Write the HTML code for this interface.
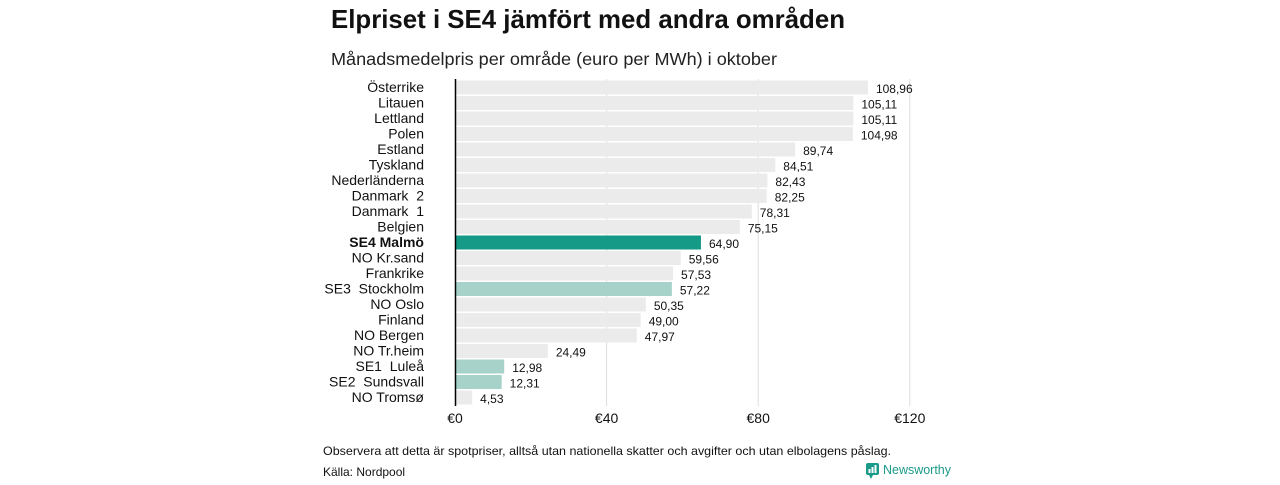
<!DOCTYPE html>
<html><head><meta charset="utf-8"><style>
body{margin:0;background:#fff;width:1280px;height:480px;overflow:hidden;font-family:"Liberation Sans","DejaVu Sans",sans-serif}
</style></head><body>
<svg width="1280" height="480" xmlns="http://www.w3.org/2000/svg">
<text x="331" y="28" font-size="26" font-weight="bold" fill="#111" textLength="514" lengthAdjust="spacingAndGlyphs">Elpriset i SE4 jämfört med andra områden</text>
<text x="331" y="65" font-size="17.5" fill="#222" textLength="446" lengthAdjust="spacingAndGlyphs">Månadsmedelpris per område (euro per MWh) i oktober</text>
<g id="grid"></g>
<g id="bars"></g>
<g id="xaxis"></g>
<line x1="455.5" y1="79" x2="455.5" y2="406" stroke="#000" stroke-width="1.5"/>
<text x="323" y="455" font-size="12" fill="#111" textLength="568" lengthAdjust="spacingAndGlyphs">Observera att detta är spotpriser, alltså utan nationella skatter och avgifter och utan elbolagens påslag.</text>
<text x="323" y="476" font-size="12" fill="#111">Källa: Nordpool</text>
<g>
<rect x="866" y="463" width="13" height="12" rx="2" fill="#1a9a88"/>
<path d="M869 475 L871 479 L873 475Z" fill="#1a9a88"/>
<rect x="868.5" y="469" width="2" height="4" fill="#fff"/><rect x="871.5" y="467" width="2" height="6" fill="#fff"/><rect x="874.5" y="465" width="2" height="8" fill="#fff"/>
<text x="883" y="474" font-size="13" fill="#1a9a88" textLength="68" lengthAdjust="spacingAndGlyphs">Newsworthy</text>
</g>
</svg>
<script>
const categories=["Österrike","Litauen","Lettland","Polen","Estland","Tyskland","Nederländerna","Danmark  2","Danmark  1","Belgien","SE4 Malmö","NO Kr.sand","Frankrike","SE3  Stockholm","NO Oslo","Finland","NO Bergen","NO Tr.heim","SE1  Luleå","SE2  Sundsvall","NO Tromsø"];
const values=[108.96,105.11,105.11,104.98,89.74,84.51,82.43,82.25,78.31,75.15,64.90,59.56,57.53,57.22,50.35,49.00,47.97,24.49,12.98,12.31,4.53];
const kinds=["o","o","o","o","o","o","o","o","o","o","main","o","o","se","o","o","o","o","se","se","o"];
const ticks=[0,40,80,120];
const NS="http://www.w3.org/2000/svg";
const x=v=>455+v*3.79;
const y=i=>80+i*15.5;
const grid=document.getElementById('grid'),bars=document.getElementById('bars'),xa=document.getElementById('xaxis');
ticks.forEach(t=>{
 if(t>0){const l=document.createElementNS(NS,'line');
 
 
 l.setAttribute('x1',x(t));l.setAttribute('x2',x(t));l.setAttribute('y1',79);l.setAttribute('y2',406);l.setAttribute('stroke','#ddd');grid.appendChild(l);}
 const tx=document.createElementNS(NS,'text');
 
 
 tx.setAttribute('x',x(t));tx.setAttribute('y',423);tx.setAttribute('text-anchor','middle');tx.setAttribute('font-size','14');tx.setAttribute('fill','#111');tx.textContent='€'+t;xa.appendChild(tx);
});
categories.forEach((c,i)=>{
 const k=kinds[i];
 const r=document.createElementNS(NS,'rect');
 
 
 r.setAttribute('x',456);r.setAttribute('y',y(i)+0.5);r.setAttribute('width',x(values[i])-456);r.setAttribute('height',14);
 r.setAttribute('fill',k==='main'?'#169a88':k==='se'?'#a6d2ca':'#ebebeb');bars.appendChild(r);
 const lb=document.createElementNS(NS,'text');
 
 
 lb.setAttribute('x',424);lb.setAttribute('y',y(i)+12);lb.setAttribute('text-anchor','end');lb.setAttribute('font-size','14');
 if(k==='main')lb.setAttribute('font-weight','bold');
 lb.setAttribute('fill','#111');lb.style.whiteSpace='pre';lb.textContent=c;bars.appendChild(lb);
 const v=document.createElementNS(NS,'text');
 
 
 v.setAttribute('x',x(values[i])+8);v.setAttribute('y',y(i)+13);v.setAttribute('font-size','12');v.setAttribute('fill','#111');
 v.textContent=values[i].toFixed(2).replace('.',',');bars.appendChild(v);
});
</script>
</body></html>
